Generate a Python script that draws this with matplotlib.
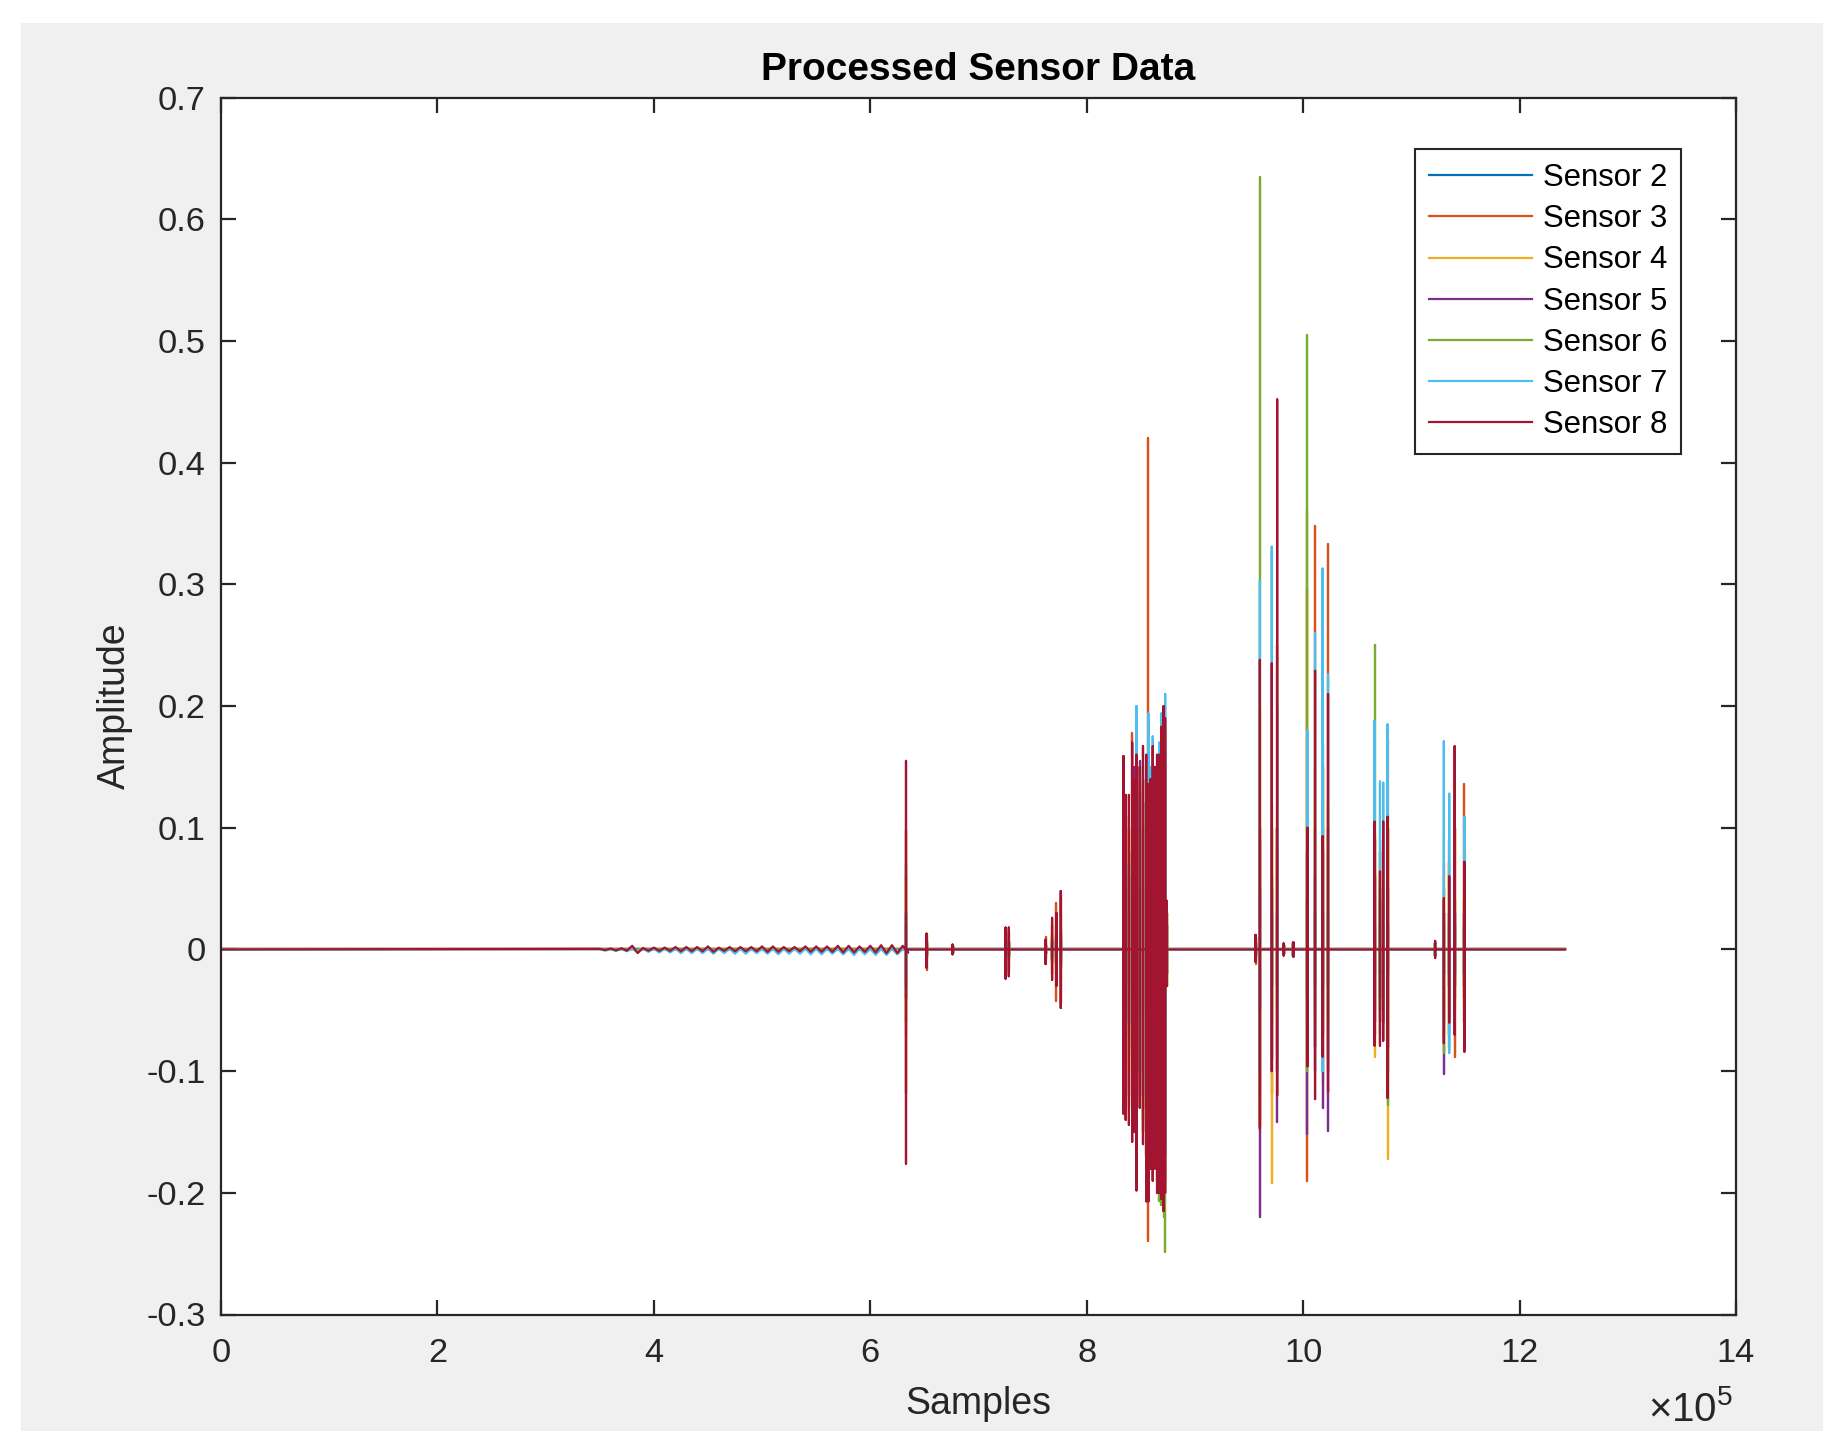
import numpy as np
import matplotlib.pyplot as plt
from matplotlib.patches import Rectangle

plt.rcParams['font.family'] = ['Liberation Sans', 'DejaVu Sans']
plt.rcParams['mathtext.fontset'] = 'custom'
plt.rcParams['mathtext.rm'] = 'Liberation Sans'
plt.rcParams['mathtext.it'] = 'Liberation Sans'

# Sensors (MATLAB default line colours)
sensor_names = ['Sensor 2', 'Sensor 3', 'Sensor 4', 'Sensor 5', 'Sensor 6', 'Sensor 7', 'Sensor 8']
sensor_colors = ['#0072BD', '#D95319', '#EDB120', '#7E2F8E', '#77AC30', '#4DBEEE', '#A2142F']
n_samples = 1242000

# spike events, positions in units of 1e5 samples
spike_pos = [6.33, 6.52, 6.76, 7.25, 7.28, 7.62, 7.68, 7.72, 7.76,
             8.34, 8.36, 8.39, 8.42, 8.44, 8.46, 8.49, 8.52, 8.55, 8.57,
             8.59, 8.61, 8.63, 8.65, 8.67, 8.69, 8.71, 8.725, 8.74,
             9.56, 9.60, 9.71, 9.76, 9.82, 9.91, 10.04, 10.11, 10.18, 10.23,
             10.66, 10.71, 10.74, 10.78, 11.22, 11.30, 11.35, 11.40, 11.49]

# peak (hi) and trough (lo) of every sensor at each event
s2_hi = [.02, .004, .003, .005, .005, .003, .005, .006, .006,
         .03, .03, .03, .04, .04, .05, .05, .05, .05, .06, .05, .05, .05, .06, .06, .06, .06, .06, .02,
         .004, .05, .03, .03, .004, .005, .04, .03, .03, .03,
         .02, .02, .02, .02, .005, .02, .02, .02, .02]
s2_lo = [-.03, -.004, -.003, -.005, -.005, -.003, -.005, -.006, -.006,
         -.03, -.03, -.03, -.04, -.04, -.05, -.05, -.05, -.05, -.06, -.05, -.05, -.05, -.06, -.06, -.06, -.06, -.06, -.02,
         -.004, -.05, -.03, -.03, -.004, -.005, -.04, -.03, -.03, -.03,
         -.02, -.02, -.02, -.02, -.005, -.02, -.02, -.02, -.02]

s3_hi = [.098, .012, .003, .015, .014, .01, .02, .038, .045,
         .08, .11, .1, .178, .12, .14, .13, .14, .14, .42, .13, .15, .14, .15, .15, .16, .17, .18, .03,
         .01, .09, .1, .25, .004, .005, .297, .348, .15, .333,
         .09, .08, .09, .1, .005, .05, .072, .1, .136]
s3_lo = [-.118, -.017, -.003, -.02, -.018, -.008, -.02, -.042, -.044,
         -.07, -.12, -.13, -.12, -.14, -.15, -.12, -.15, -.17, -.24, -.17, -.18, -.17, -.18, -.19, -.19, -.2, -.19, -.03,
         -.012, -.145, -.119, -.1, -.004, -.005, -.19, -.08, -.07, -.1,
         -.07, -.06, -.06, -.1, -.005, -.06, -.07, -.088, -.06]

s4_hi = [.06, .008, .003, .01, .008, .005, .012, .02, .025,
         .1, .07, .09, .1, .1, .12, .1, .12, .12, .15, .12, .13, .12, .13, .14, .14, .15, .16, .03,
         .008, .198, .12, .08, .004, .005, .362, .15, .17, .12,
         .095, .06, .05, .173, .005, .071, .09, .1, .05]
s4_lo = [-.07, -.008, -.003, -.012, -.01, -.005, -.012, -.02, -.025,
         -.082, -.07, -.1, -.1, -.12, -.12, -.11, -.13, -.14, -.15, -.15, -.15, -.15, -.16, -.16, -.17, -.17, -.17, -.03,
         -.008, -.15, -.192, -.08, -.004, -.005, -.06, -.06, -.11, -.08,
         -.088, -.05, -.05, -.172, -.005, -.07, -.05, -.05, -.043]

s5_hi = [.03, .005, .003, .006, .005, .004, .008, .01, .012,
         .05, .05, .06, .08, .15, .1, .155, .1, .12, .12, .11, .12, .12, .13, .13, .14, .14, .15, .02,
         .005, .1, .05, .1, .004, .005, .08, .06, .08, .1,
         .06, .04, .04, .05, .005, .03, .03, .03, .03]
s5_lo = [-.04, -.005, -.003, -.006, -.005, -.004, -.008, -.01, -.012,
         -.05, -.05, -.06, -.08, -.1, -.12, -.1, -.12, -.13, -.14, -.14, -.15, -.14, -.15, -.15, -.16, -.17, -.16, -.02,
         -.005, -.22, -.09, -.142, -.004, -.005, -.152, -.1, -.13, -.149,
         -.06, -.04, -.04, -.08, -.005, -.102, -.03, -.03, -.03]

s6_hi = [.07, .006, .003, .008, .006, .004, .01, .012, .015,
         .06, .06, .07, .08, .09, .1, .1, .12, .12, .13, .12, .14, .13, .15, .15, .16, .17, .18, .03,
         .006, .635, .06, .1, .004, .005, .505, .1, .1, .08,
         .25, .05, .05, .1, .005, .03, .06, .04, .04]
s6_lo = [-.06, -.006, -.003, -.008, -.006, -.004, -.01, -.012, -.015,
         -.06, -.06, -.07, -.09, -.1, -.12, -.1, -.14, -.15, -.15, -.16, -.17, -.16, -.19, -.207, -.21, -.22, -.249, -.03,
         -.006, -.12, -.06, -.05, -.004, -.005, -.1, -.05, -.05, -.06,
         -.05, -.05, -.05, -.128, -.005, -.085, -.081, -.04, -.04]

s7_hi = [.03, .005, .003, .006, .005, .004, .006, .008, .01,
         .05, .06, .07, .1, .1, .2, .12, .15, .15, .194, .15, .175, .15, .16, .17, .194, .19, .21, .03,
         .006, .303, .331, .2, .004, .005, .18, .26, .313, .226,
         .188, .138, .137, .185, .005, .171, .128, .08, .109]
s7_lo = [-.03, -.006, -.003, -.006, -.005, -.004, -.006, -.008, -.01,
         -.04, -.05, -.06, -.08, -.1, -.12, -.1, -.12, -.14, -.15, -.13, -.14, -.13, -.15, -.15, -.16, -.17, -.17, -.02,
         -.006, -.1, -.1, -.099, -.004, -.005, -.08, -.08, -.1, -.09,
         -.07, -.07, -.06, -.11, -.005, -.06, -.085, -.06, -.05]

s8_hi = [.155, .013, .004, .018, .018, .008, .026, .03, .048,
         .159, .127, .127, .17, .14, .16, .15, .167, .16, .136, .14, .167, .15, .16, .16, .183, .2, .19, .04,
         .012, .238, .235, .452, .005, .006, .1, .229, .093, .21,
         .105, .064, .105, .109, .007, .042, .06, .167, .072]
s8_lo = [-.176, -.015, -.004, -.024, -.022, -.012, -.025, -.03, -.048,
         -.135, -.14, -.144, -.158, -.15, -.198, -.13, -.16, -.207, -.207, -.18, -.19, -.18, -.2, -.2, -.205, -.215, -.2, -.03,
         -.01, -.147, -.1, -.12, -.005, -.006, -.096, -.123, -.088, -.117,
         -.079, -.079, -.075, -.122, -.007, -.077, -.06, -.07, -.084]

# low level background noise before the first event (sensors 7 and 8), drawn as a wiggle
noise_pos = [3.5, 3.6, 3.7, 3.8, 3.9, 4.0, 4.1, 4.2, 4.3, 4.4, 4.5, 4.6, 4.7, 4.8, 4.9,
             5.0, 5.1, 5.2, 5.3, 5.4, 5.5, 5.6, 5.7, 5.8, 5.9, 6.0, 6.1, 6.2, 6.3]
s7_noise_hi = [.0003, .0003, .0004, .0005, .0005, .0005, .0005, .0005, .0005, .0005, .0005, .0005, .0005, .0005, .0005,
               .0005, .0005, .0005, .0005, .0005, .0005, .0005, .0005, .0005, .0005, .0005, .0005, .0005, .0005]
s7_noise_lo = [-.001, -.0012, -.0015, -.002, -.002, -.0025, -.0025, -.003, -.003, -.003, -.0035, -.003, -.0035, -.0035, -.003,
               -.0035, -.004, -.0035, -.0035, -.004, -.004, -.0035, -.004, -.0045, -.004, -.0045, -.0045, -.004, -.003]
s8_noise_hi = [.0005, .0008, .001, .003, .0012, .0015, .0015, .002, .002, .002, .0025, .0015, .002, .002, .002,
               .0025, .0025, .002, .002, .0025, .0025, .0025, .003, .003, .0025, .003, .0035, .0035, .003]
s8_noise_lo = [-.0005, -.0008, -.001, -.003, -.001, -.0012, -.0012, -.0015, -.0015, -.0015, -.002, -.0012, -.0015, -.0015, -.0015,
               -.002, -.002, -.0015, -.0015, -.002, -.002, -.002, -.0025, -.0025, -.002, -.0025, -.003, -.003, -.0025]

x_ticks = [0, 2, 4, 6, 8, 10, 12, 14]
y_ticks = [-0.3, -0.2, -0.1, 0, 0.1, 0.2, 0.3, 0.4, 0.5, 0.6, 0.7]


def build_trace(pos, hi, lo, npos=(), nhi=(), nlo=()):
    # spikes: zero -> peak -> trough -> zero ; noise: peak, then trough half a step later
    events = [(p, h, l, True) for p, h, l in zip(pos, hi, lo)]
    events += [(p, h, l, False) for p, h, l in zip(npos, nhi, nlo)]
    x, y = [0], [0]
    for p, h, l, spike in sorted(events):
        xs = p * 1e5
        if spike:
            x += [xs, xs, xs, xs]
            y += [0, h, l, 0]
        else:
            x += [xs, xs + 5000]
            y += [h, l]
    x.append(n_samples)
    y.append(0)
    return np.array(x), np.array(y)


traces = [
    build_trace(spike_pos, s2_hi, s2_lo),
    build_trace(spike_pos, s3_hi, s3_lo),
    build_trace(spike_pos, s4_hi, s4_lo),
    build_trace(spike_pos, s5_hi, s5_lo),
    build_trace(spike_pos, s6_hi, s6_lo),
    build_trace(spike_pos, s7_hi, s7_lo, noise_pos, s7_noise_hi, s7_noise_lo),
    build_trace(spike_pos, s8_hi, s8_lo, noise_pos, s8_noise_hi, s8_noise_lo),
]

W, H, DPI = 1824, 1431, 200
fig = plt.figure(figsize=(W / DPI, H / DPI), dpi=DPI, facecolor='white')
# MATLAB grey figure window area
fig.patches.append(Rectangle((21 / W, 0), 1 - 21 / W, 1 - 23 / H, transform=fig.transFigure,
                             facecolor='#f0f0f0', edgecolor='none', zorder=-10))

ax = fig.add_axes([221 / W, 1 - 1314.5 / H, (1736 - 221) / W, (1314.5 - 97.7) / H])
ax.set_facecolor('white')

for (x, y), name, c in zip(traces, sensor_names, sensor_colors):
    ax.plot(x, y, color=c, lw=0.8, label=name)

ax.set_xlim(0, 14e5)
ax.set_ylim(-0.3, 0.7)
ax.set_xticks([t * 1e5 for t in x_ticks])
ax.set_xticklabels([str(t) for t in x_ticks])
ax.set_yticks(y_ticks)
ax.set_yticklabels(['%g' % t for t in y_ticks])

dark = '#262626'
for s in ax.spines.values():
    s.set_color(dark)
    s.set_linewidth(0.8)
ax.tick_params(direction='in', length=5.4, width=0.8, color=dark, labelcolor=dark,
               labelsize=12.4, top=True, right=True)
ax.tick_params(axis='y', pad=5.5)
ax.tick_params(axis='x', pad=8.5)

ax.set_title('Processed Sensor Data', fontsize=14, fontweight='bold', pad=6.5, color='black')
ax.set_xlabel('Samples', fontsize=13.5, color=dark, labelpad=6)
ax.set_ylabel('Amplitude', fontsize=13.5, color=dark, labelpad=5)

fig.text(1733 / W, 1 - 1421 / H, r'$\times10^{5}$', ha='right', va='baseline', fontsize=14.5, color=dark)

leg = ax.legend(loc='upper right', bbox_to_anchor=((1681 - 221) / (1736 - 221), (1314.5 - 149) / (1314.5 - 97.7)),
                borderaxespad=0, fontsize=11.2, handlelength=3.3, handletextpad=0.35,
                labelspacing=0.36, borderpad=0.45, fancybox=False, framealpha=1)
leg.get_frame().set_edgecolor(dark)
leg.get_frame().set_linewidth(0.75)

fig.savefig('out.png', dpi=DPI, facecolor=fig.get_facecolor())
